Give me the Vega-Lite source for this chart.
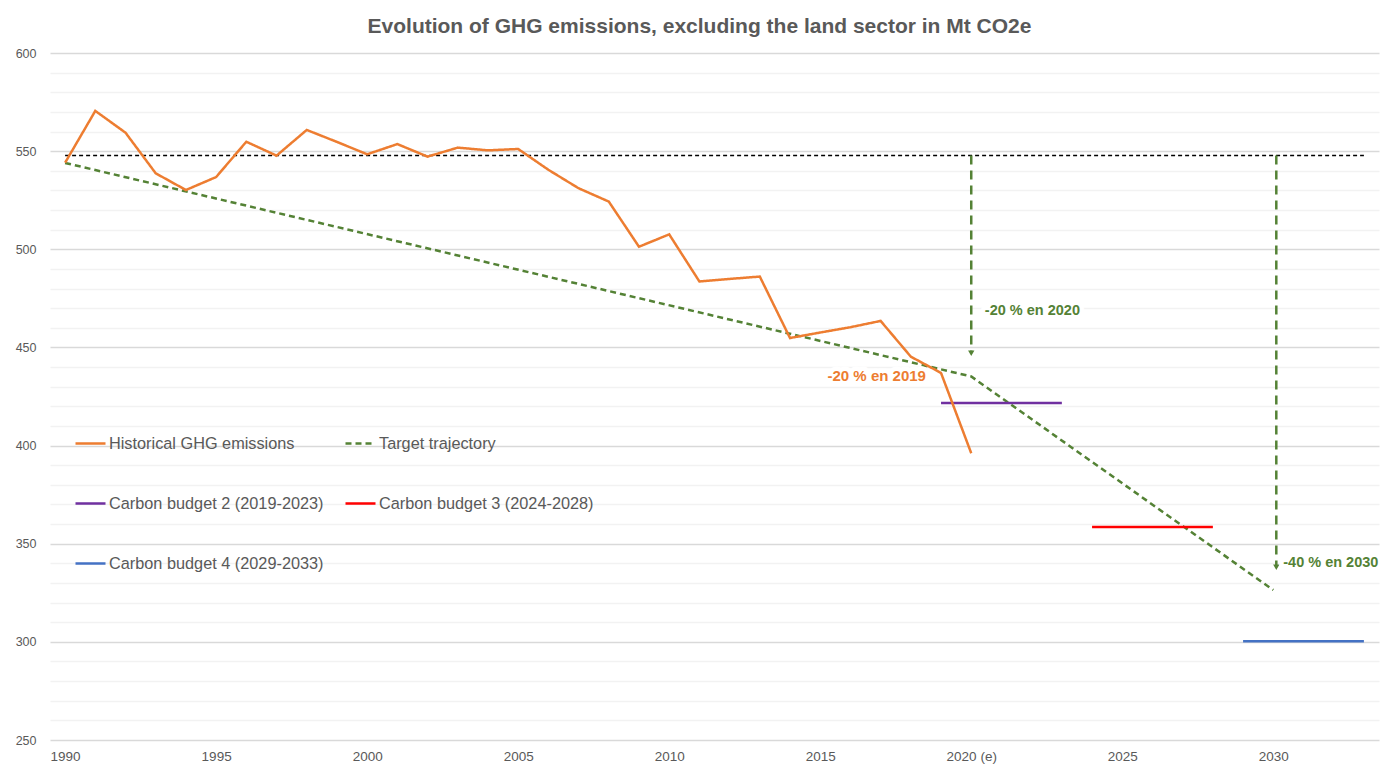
{
  "$schema": "https://vega.github.io/schema/vega-lite/v6.json",
  "width": 1329,
  "height": 687,
  "autosize": {"type": "none"},
  "padding": {"left": 50, "top": 53, "right": 2, "bottom": 38},
  "background": "white",
  "title": {
    "text": "Evolution of GHG emissions, excluding the land sector in Mt CO2e",
    "fontSize": 21,
    "fontWeight": "bold",
    "color": "#595959",
    "font": "Liberation Sans",
    "anchor": "middle",
    "dx": -15,
    "offset": 10
  },
  "config": {
    "font": "Liberation Sans",
    "view": {"stroke": null}
  },
  "encoding": {
    "x": {
      "field": "year",
      "type": "quantitative",
      "scale": {"domain": [1989.5, 2033.5], "nice": false, "zero": false},
      "axis": {
        "title": null,
        "values": [1990, 1995, 2000, 2005, 2010, 2015, 2020, 2025, 2030],
        "labelExpr": "datum.value == 2020 ? '2020 (e)' : '' + datum.value",
        "labelFontSize": 13.5,
        "labelColor": "#595959",
        "ticks": false,
        "domain": false,
        "grid": false,
        "labelPadding": 9,
        "labelFlush": false
      }
    },
    "y": {
      "field": "value",
      "type": "quantitative",
      "scale": {"domain": [250, 600], "nice": false, "zero": false},
      "axis": {
        "title": null,
        "values": [250, 260, 270, 280, 290, 300, 310, 320, 330, 340, 350, 360, 370, 380, 390, 400, 410, 420, 430, 440, 450, 460, 470, 480, 490, 500, 510, 520, 530, 540, 550, 560, 570, 580, 590, 600],
        "labelExpr": "datum.value % 50 === 0 ? '' + datum.value : ''",
        "gridColor": {"condition": {"test": "datum.value % 50 === 0", "value": "#d9d9d9"}, "value": "#f2f2f2"},
        "gridWidth": 1.3,
        "ticks": false,
        "domain": false,
        "labelPadding": 14,
        "labelFontSize": 12.5,
        "labelColor": "#595959"
      }
    }
  },
  "layer": [
    {
      "data": {"values": [
        {"year": 1990, "value": 547.8},
        {"year": 2033, "value": 547.8}
      ]},
      "mark": {"type": "line", "color": "#000000", "strokeWidth": 1.6, "strokeDash": [4, 3]}
    },
    {
      "data": {"values": [
        {"year": 2020, "value": 547.8, "value2": 447},
        {"year": 2030.1, "value": 547.8, "value2": 338}
      ]},
      "mark": {"type": "rule", "color": "#548235", "strokeWidth": 2.5, "strokeDash": [9, 6]},
      "encoding": {"y2": {"field": "value2"}}
    },
    {
      "data": {"values": [
        {"year": 2020, "value": 447},
        {"year": 2030.1, "value": 338}
      ]},
      "mark": {"type": "point", "shape": "triangle-down", "filled": true, "color": "#548235", "size": 40, "opacity": 1}
    },
    {
      "data": {"values": [
        {"series": "Target trajectory", "year": 1990, "value": 544.0},
        {"series": "Target trajectory", "year": 2020, "value": 435.2},
        {"series": "Target trajectory", "year": 2030, "value": 326.4},
        {"series": "Carbon budget 2 (2019-2023)", "year": 2019, "value": 421.7},
        {"series": "Carbon budget 2 (2019-2023)", "year": 2023, "value": 421.7},
        {"series": "Carbon budget 3 (2024-2028)", "year": 2024, "value": 358.5},
        {"series": "Carbon budget 3 (2024-2028)", "year": 2028, "value": 358.5},
        {"series": "Carbon budget 4 (2029-2033)", "year": 2029, "value": 300.3},
        {"series": "Carbon budget 4 (2029-2033)", "year": 2033, "value": 300.3},
        {"series": "Historical GHG emissions", "year": 1990, "value": 544.1},
        {"series": "Historical GHG emissions", "year": 1991, "value": 570.5},
        {"series": "Historical GHG emissions", "year": 1992, "value": 559.4},
        {"series": "Historical GHG emissions", "year": 1993, "value": 538.7},
        {"series": "Historical GHG emissions", "year": 1994, "value": 530.2},
        {"series": "Historical GHG emissions", "year": 1995, "value": 536.8},
        {"series": "Historical GHG emissions", "year": 1996, "value": 554.8},
        {"series": "Historical GHG emissions", "year": 1997, "value": 547.7},
        {"series": "Historical GHG emissions", "year": 1998, "value": 560.8},
        {"series": "Historical GHG emissions", "year": 1999, "value": 554.7},
        {"series": "Historical GHG emissions", "year": 2000, "value": 548.4},
        {"series": "Historical GHG emissions", "year": 2001, "value": 553.6},
        {"series": "Historical GHG emissions", "year": 2002, "value": 547.2},
        {"series": "Historical GHG emissions", "year": 2003, "value": 551.8},
        {"series": "Historical GHG emissions", "year": 2004, "value": 550.4},
        {"series": "Historical GHG emissions", "year": 2005, "value": 551.1},
        {"series": "Historical GHG emissions", "year": 2006, "value": 540.5},
        {"series": "Historical GHG emissions", "year": 2007, "value": 531.1},
        {"series": "Historical GHG emissions", "year": 2008, "value": 524.3},
        {"series": "Historical GHG emissions", "year": 2009, "value": 501.3},
        {"series": "Historical GHG emissions", "year": 2010, "value": 507.6},
        {"series": "Historical GHG emissions", "year": 2011, "value": 483.6},
        {"series": "Historical GHG emissions", "year": 2012, "value": 484.9},
        {"series": "Historical GHG emissions", "year": 2013, "value": 486.1},
        {"series": "Historical GHG emissions", "year": 2014, "value": 454.8},
        {"series": "Historical GHG emissions", "year": 2015, "value": 457.6},
        {"series": "Historical GHG emissions", "year": 2016, "value": 460.3},
        {"series": "Historical GHG emissions", "year": 2017, "value": 463.5},
        {"series": "Historical GHG emissions", "year": 2018, "value": 445.3},
        {"series": "Historical GHG emissions", "year": 2019, "value": 437.0},
        {"series": "Historical GHG emissions", "year": 2020, "value": 396.1}
      ]},
      "mark": {"type": "line", "strokeWidth": 2.5},
      "encoding": {
        "color": {
          "field": "series",
          "type": "nominal",
          "sort": null,
          "scale": {
            "domain": ["Historical GHG emissions", "Target trajectory", "Carbon budget 2 (2019-2023)", "Carbon budget 3 (2024-2028)", "Carbon budget 4 (2029-2033)"],
            "range": ["#ED7D31", "#548235", "#7030A0", "#FF0000", "#4472C4"]
          },
          "legend": {
            "orient": "none",
            "legendX": 24,
            "legendY": 374,
            "columns": 2,
            "direction": "horizontal",
            "symbolType": "stroke",
            "symbolSize": 900,
            "symbolStrokeWidth": 2.5,
            "labelFontSize": 16.3,
            "labelColor": "#595959",
            "labelOffset": 2,
            "labelLimit": 0,
            "rowPadding": 35,
            "columnPadding": 16,
            "padding": 0,
            "title": null
          }
        },
        "strokeDash": {
          "field": "series",
          "type": "nominal",
          "sort": null,
          "scale": {
            "domain": ["Historical GHG emissions", "Target trajectory", "Carbon budget 2 (2019-2023)", "Carbon budget 3 (2024-2028)", "Carbon budget 4 (2029-2033)"],
            "range": [[1, 0], [6, 4], [1, 0], [1, 0], [1, 0]]
          },
          "legend": {
            "orient": "none",
            "legendX": 24,
            "legendY": 374,
            "columns": 2,
            "direction": "horizontal",
            "symbolType": "stroke",
            "symbolSize": 900,
            "symbolStrokeWidth": 2.5,
            "labelFontSize": 16.3,
            "labelColor": "#595959",
            "labelOffset": 2,
            "labelLimit": 0,
            "rowPadding": 35,
            "columnPadding": 16,
            "padding": 0,
            "title": null
          }
        }
      }
    },
    {
      "data": {"values": [{"year": 2018.5, "value": 435.5, "label": "-20 % en 2019"}]},
      "mark": {"type": "text", "align": "right", "baseline": "middle", "fontSize": 15, "fontWeight": "bold", "fill": "white", "stroke": "white", "strokeWidth": 9, "strokeJoin": "round"},
      "encoding": {"text": {"field": "label"}}
    },
    {
      "data": {"values": [{"year": 2018.5, "value": 435.5, "label": "-20 % en 2019"}]},
      "mark": {"type": "text", "align": "right", "baseline": "middle", "fontSize": 15, "fontWeight": "bold", "color": "#ED7D31"},
      "encoding": {"text": {"field": "label"}}
    },
    {
      "data": {"values": [
        {"year": 2020.45, "value": 468.6, "label": "-20 % en 2020"},
        {"year": 2030.33, "value": 340.2, "label": "-40 % en 2030"}
      ]},
      "mark": {"type": "text", "align": "left", "baseline": "middle", "fontSize": 14.5, "fontWeight": "bold", "fill": "white", "stroke": "white", "strokeWidth": 9, "strokeJoin": "round"},
      "encoding": {"text": {"field": "label"}}
    },
    {
      "data": {"values": [
        {"year": 2020.45, "value": 468.6, "label": "-20 % en 2020"},
        {"year": 2030.33, "value": 340.2, "label": "-40 % en 2030"}
      ]},
      "mark": {"type": "text", "align": "left", "baseline": "middle", "fontSize": 14.5, "fontWeight": "bold", "color": "#548235"},
      "encoding": {"text": {"field": "label"}}
    }
  ]
}
